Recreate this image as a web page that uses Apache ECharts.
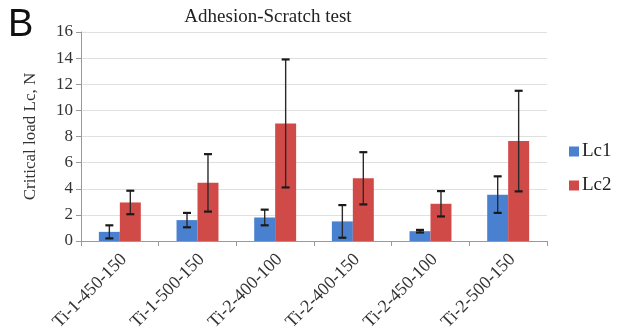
<!DOCTYPE html>
<html>
<head>
<meta charset="utf-8">
<script src="https://cdn.jsdelivr.net/npm/echarts@6/dist/echarts.min.js"></script>
<style>html,body{margin:0;padding:0;background:#fff}#c{width:620px;height:334px}</style>
</head>
<body>
<div id="c"></div>
<script>
var categories = ['Ti-1-450-150','Ti-1-500-150','Ti-2-400-100','Ti-2-400-150','Ti-2-450-100','Ti-2-500-150'];
var lc1 = [0.7, 1.6, 1.8, 1.5, 0.75, 3.55];
var lc1Err = [0.5, 0.55, 0.6, 1.25, 0.1, 1.4];
var lc2 = [2.95, 4.45, 9.0, 4.8, 2.85, 7.65];
var lc2Err = [0.9, 2.2, 4.9, 2.0, 0.97, 3.85];
var yTicks = [0, 2, 4, 6, 8, 10, 12, 14, 16];

var serif = '"Liberation Serif", "Times New Roman", serif';
var gapPct = 46;

function errData(vals, errs) {
  return vals.map(function (v, i) { return [i, v - errs[i], v + errs[i]]; });
}
function makeErr(side) {
  return function (params, api) {
    var i = api.value(0);
    var lo = api.coord([i, api.value(1)]);
    var hi = api.coord([i, api.value(2)]);
    var band = api.size([1, 0])[0];
    var w = band * (1 - gapPct / 100) / 2;
    var x = lo[0] + side * w / 2;
    var cap = 4;
    var st = { stroke: '#2a2a2a', lineWidth: 1.4 };
    var st2 = { stroke: '#1a1a1a', lineWidth: 2.2 };
    return {
      type: 'group',
      children: [
        { type: 'line', shape: { x1: x, y1: hi[1], x2: x, y2: lo[1] }, style: st },
        { type: 'line', shape: { x1: x - cap, y1: hi[1], x2: x + cap, y2: hi[1] }, style: st2 },
        { type: 'line', shape: { x1: x - cap, y1: lo[1], x2: x + cap, y2: lo[1] }, style: st2 }
      ]
    };
  };
}

var chart = echarts.init(document.getElementById('c'), null, { renderer: 'canvas' });
chart.setOption({
  animation: false,
  backgroundColor: '#fff',
  graphic: [
    { type: 'text', left: 8, top: 7, style: { text: 'B', font: '38px "Liberation Sans", Arial, sans-serif', fill: '#111' } },
    { type: 'text', x: 268, y: 8, style: { text: 'Adhesion-Scratch test', font: '19px ' + serif, fill: '#222', textAlign: 'center' } }
  ],
  legend: {
    orient: 'vertical',
    left: 564,
    top: 137,
    itemWidth: 10,
    itemHeight: 10,
    itemGap: 15,
    icon: 'rect',
    data: ['Lc1', 'Lc2'],
    textStyle: { fontFamily: serif, fontSize: 19, color: '#222', padding: [0, 0, 0, -2] }
  },
  grid: { left: 81, right: 73, top: 32, bottom: 93, containLabel: false },
  xAxis: {
    type: 'category',
    data: categories,
    axisLine: { lineStyle: { color: '#999' } },
    axisTick: { show: true, length: 5, lineStyle: { color: '#999' } },
    axisLabel: { rotate: 45, fontFamily: serif, fontSize: 18, color: '#333', margin: 20, padding: [0, -6, 0, 0], interval: 0 }
  },
  yAxis: {
    type: 'value',
    min: 0, max: 16, interval: 2,
    name: 'Critical load Lc, N',
    nameLocation: 'middle',
    nameGap: 42,
    nameTextStyle: { fontFamily: serif, fontSize: 17, color: '#333' },
    axisLine: { show: true, lineStyle: { color: '#999' } },
    axisTick: { show: true, length: 5, lineStyle: { color: '#999' } },
    axisLabel: { fontFamily: serif, fontSize: 17, color: '#333', margin: 8,
      formatter: function (v) { return yTicks.indexOf(v) >= 0 ? String(v) : ''; } },
    splitLine: { lineStyle: { color: '#e0e0e0' } }
  },
  series: [
    { name: 'Lc1', type: 'bar', data: lc1, barGap: '0%', barCategoryGap: gapPct + '%', itemStyle: { color: '#4a80d0' } },
    { name: 'Lc2', type: 'bar', data: lc2, barGap: '0%', barCategoryGap: gapPct + '%', itemStyle: { color: '#d04a48' } },
    { type: 'custom', renderItem: makeErr(-1), data: errData(lc1, lc1Err), z: 10, silent: true },
    { type: 'custom', renderItem: makeErr(1), data: errData(lc2, lc2Err), z: 10, silent: true }
  ]
});
</script>
</body>
</html>
